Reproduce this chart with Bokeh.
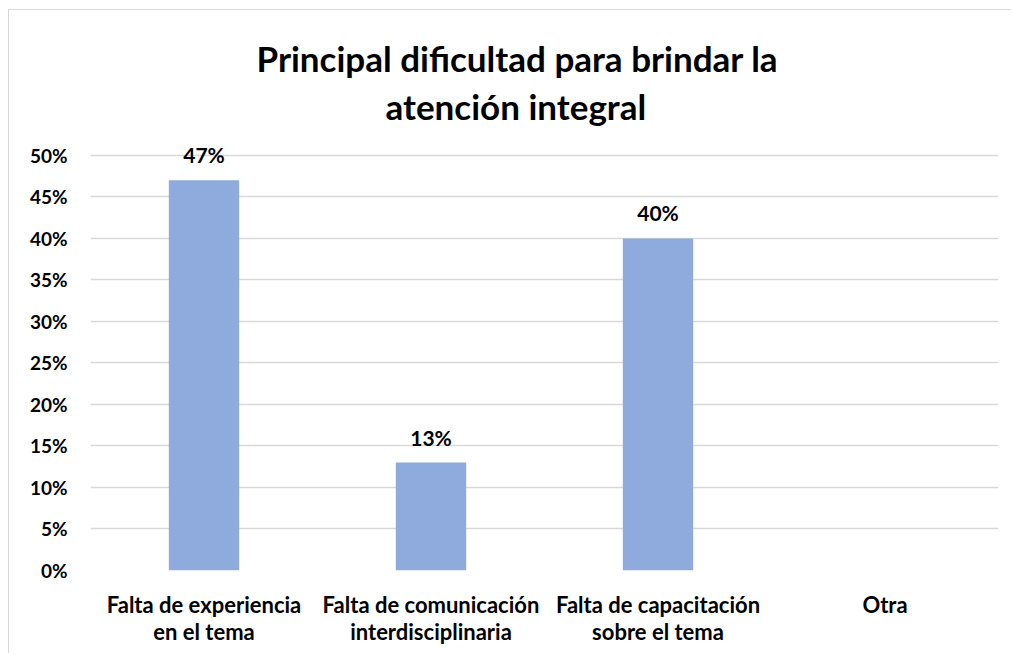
from bokeh.plotting import figure
from bokeh.models import Title, NumeralTickFormatter, FixedTicker, ColumnDataSource
from bokeh.core.properties import value
from bokeh.embed import file_html
from bokeh.resources import INLINE

categories = ["Falta de experiencia\nen el tema",
              "Falta de comunicación\ninterdisciplinaria",
              "Falta de capacitación\nsobre el tema",
              "Otra"]
values = [0.47, 0.13, 0.40, 0.0]
labels = ["47%", "13%", "40%", ""]
y_ticks = [0, 0.05, 0.10, 0.15, 0.20, 0.25, 0.30, 0.35, 0.40, 0.45, 0.50]
title_lines = ["Principal dificultad para brindar la", "atención integral"]

FONT = "Lato"

p = figure(x_range=categories, y_range=(0, 0.53), width=1003, height=644,
           output_backend="svg", toolbar_location=None,
           min_border_left=81, min_border_right=14, min_border_bottom=84, min_border_top=120)
p.styles = {"border-left": "1px solid #d9d9d9", "border-top": "1px solid #d9d9d9",
            "margin-left": "8px", "margin-top": "9px"}
p.outline_line_color = None

t2 = Title(text=title_lines[1], align="left", text_font=FONT, text_font_size="35px",
           text_font_style="bold", text_color="#000000", offset=295, standoff=8,
           text_line_height=1.0)
t1 = Title(text=title_lines[0], align="left", text_font=FONT, text_font_size="35px",
           text_font_style="bold", text_color="#000000", offset=166, standoff=0,
           text_line_height=1.0)
p.add_layout(t2, "above")
p.add_layout(t1, "above")

src = ColumnDataSource(dict(x=categories, top=values, lab=labels))
p.vbar(x="x", top="top", width=0.31, source=src, fill_color="#8FAADC", line_color=None)
p.text(x="x", y="top", text="lab", source=src, text_align="center", text_baseline="bottom",
       y_offset=-13, text_font=value(FONT), text_font_style="bold", text_font_size="21px",
       text_color="#000000")

p.yaxis.ticker = FixedTicker(ticks=y_ticks)
p.yaxis.formatter = NumeralTickFormatter(format="0%")
p.yaxis.axis_line_color = None
p.yaxis.major_tick_line_color = None
p.yaxis.minor_tick_line_color = None
p.yaxis.major_label_standoff = 17
p.yaxis.major_label_text_font = FONT
p.yaxis.major_label_text_font_style = "bold"
p.yaxis.major_label_text_font_size = "19px"
p.yaxis.major_label_text_color = "#000000"

p.xaxis.axis_line_color = None
p.xaxis.major_tick_line_color = None
p.xaxis.major_label_standoff = 14
p.xaxis.major_label_text_font = FONT
p.xaxis.major_label_text_font_style = "bold"
p.xaxis.major_label_text_font_size = "22px"
p.xaxis.major_label_text_line_height = 1.0
p.xaxis.major_label_text_color = "#000000"

p.xgrid.grid_line_color = None
p.ygrid.grid_line_color = "#d9d9d9"
p.ygrid.grid_line_width = 1.5

open("out.html", "w").write(file_html(p, INLINE))
